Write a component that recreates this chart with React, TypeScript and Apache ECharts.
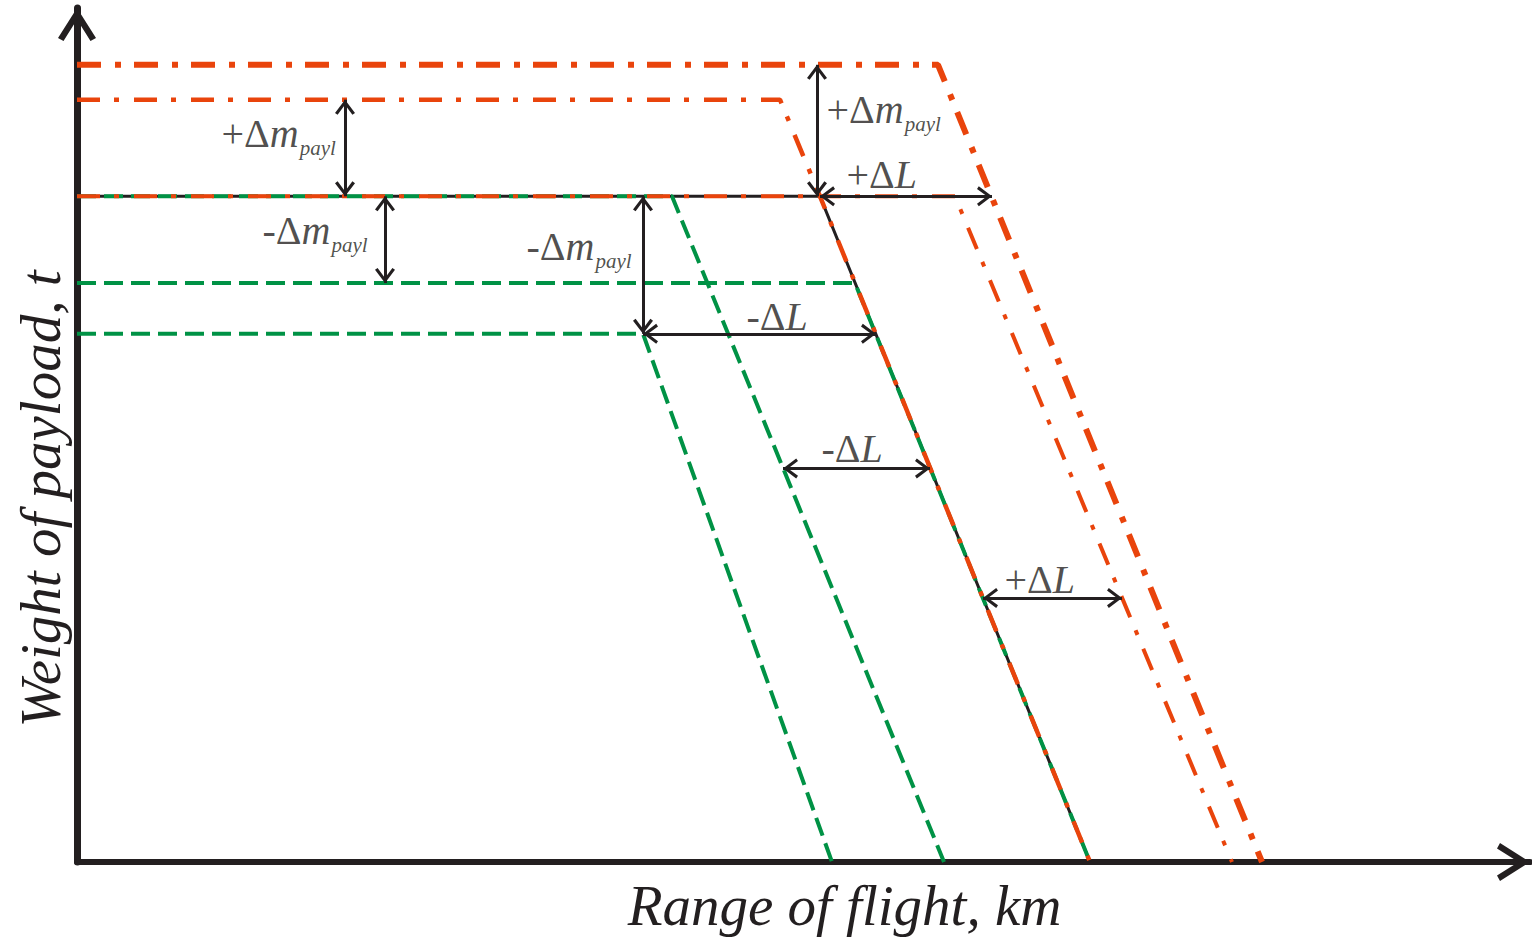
import React, { useEffect, useRef } from "react";
import * as echarts from "echarts";

// Schematic units: range of flight (x) and weight of payload (y)
const RANGE_MAX = 1453;
const PAYLOAD_MAX = 857;

// Payload–range diagrams [range, payload]
const baseCurve = [[0, 668], [743, 668], [1013, 0]];
const payloadPlusHigh = [[0, 800], [861, 800], [1185, 0]];
const payloadPlus = [[0, 765], [703, 765], [743, 668], [1013, 0]];
const rangePlus = [[0, 668], [878, 668], [1155, 0]];
const rangeMinus = [[0, 668], [595, 668], [867, 0]];
const payloadMinus = [[0, 581], [778, 581], [1013, 0]];
const payloadMinusLow = [[0, 530], [566, 530], [755, 0]];

// Double-headed dimension arrows
const arrowFrom = [[268, 765], [308, 668], [566, 668], [740, 800], [743, 668], [566, 530], [706, 395], [906, 265]];
const arrowTo = [[268, 668], [308, 581], [566, 530], [740, 668], [915, 668], [799, 530], [853, 395], [1045, 265]];

// Annotation texts and their anchors (top-left)
const labelText = ["+Δm_payl", "-Δm_payl", "-Δm_payl", "+Δm_payl", "+ΔL", "-ΔL", "-ΔL", "+ΔL"];
const labelPos = [[145, 751], [186, 653], [450, 637], [750, 775], [770, 709], [670, 567], [745, 435], [928, 303]];

const RED = "#E9440C";
const GREEN = "#009245";
const BLACK = "#231F20";
const SERIF = "'Liberation Serif', 'Times New Roman', serif";

const AXIS_HEAD = "path://M19,0 L38,30 L32.5,33 L19,11.5 L5.5,33 L0,30 Z";
const ARROW_HEAD = "path://M10,0 L20,13.2 L17.4,15 L10,5 L2.6,15 L0,13.2 Z";

function richLabel(t: string): string {
  const [main, sub] = t.split("_");
  const op = main.slice(0, 2);
  const v = main.slice(2);
  return `{op|${op}}{it|${v}}` + (sub ? `{sub|${sub}}` : "");
}

export default function App() {
  const ref = useRef<HTMLDivElement>(null);
  useEffect(() => {
    if (!ref.current) return;
    const chart = echarts.init(ref.current, undefined, { renderer: "svg" });
    const lineBase = { type: "line", symbol: "none", showSymbol: false, silent: true, clip: false };
    chart.setOption({
      animation: false,
      backgroundColor: "#ffffff",
      grid: { left: 77, right: 2, top: 8, bottom: 74, containLabel: false },
      xAxis: {
        type: "value",
        min: 0,
        max: RANGE_MAX,
        name: "Range of flight, km",
        nameLocation: "middle",
        nameGap: 15,
        nameTextStyle: { fontFamily: SERIF, fontStyle: "italic", fontSize: 57, color: BLACK, padding: [0, 0, 0, 82] },
        axisLine: {
          show: true,
          onZero: false,
          symbol: ["none", AXIS_HEAD],
          symbolSize: [38, 33],
          symbolOffset: [0, -16.5],
          lineStyle: { color: BLACK, width: 6 },
        },
        axisTick: { show: false },
        axisLabel: { show: false },
        splitLine: { show: false },
      },
      yAxis: {
        type: "value",
        min: 0,
        max: PAYLOAD_MAX,
        name: "Weight of payload, t",
        nameLocation: "middle",
        nameGap: 8,
        nameTextStyle: { fontFamily: SERIF, fontStyle: "italic", fontSize: 57, color: BLACK, padding: [0, 128, 0, 0] },
        axisLine: {
          show: true,
          onZero: false,
          symbol: ["none", AXIS_HEAD],
          symbolSize: [38, 33],
          symbolOffset: [0, -16.5],
          lineStyle: { color: BLACK, width: 7 },
        },
        axisTick: { show: false },
        axisLabel: { show: false },
        splitLine: { show: false },
      },
      series: [
        {
          ...lineBase,
          name: "Base",
          z: 2,
          data: baseCurve,
          lineStyle: { color: BLACK, width: 3, type: "solid" },
          markLine: {
            silent: true,
            z: 10,
            symbol: [ARROW_HEAD, ARROW_HEAD],
            symbolSize: [20, 15],
            symbolOffset: [[0, 7.5], [0, 7.5]],
            lineStyle: { color: BLACK, width: 3, type: "solid" },
            label: { show: false },
            emphasis: { disabled: true },
            data: arrowFrom.map((f, i) => [{ coord: f }, { coord: arrowTo[i] }]),
          },
        },
        { ...lineBase, name: "-ΔL", z: 3, data: rangeMinus, lineStyle: { color: GREEN, width: 4, type: [19, 8] } },
        { ...lineBase, name: "-Δm", z: 3, data: payloadMinus, lineStyle: { color: GREEN, width: 4, type: [19, 8] } },
        { ...lineBase, name: "-Δm low", z: 3, data: payloadMinusLow, lineStyle: { color: GREEN, width: 4, type: [19, 8] } },
        { ...lineBase, name: "+ΔL", z: 4, data: rangePlus, lineStyle: { color: RED, width: 4, type: [23, 14, 5, 15] } },
        { ...lineBase, name: "+Δm", z: 4, data: payloadPlus, lineStyle: { color: RED, width: 4.5, type: [23, 14, 5, 15] } },
        { ...lineBase, name: "+Δm high", z: 4, data: payloadPlusHigh, lineStyle: { color: RED, width: 6, type: [24, 14, 6, 13] } },
        {
          type: "scatter",
          name: "labels",
          z: 12,
          silent: true,
          symbolSize: 1,
          itemStyle: { color: "rgba(0,0,0,0)" },
          data: labelPos.map((p, i) => ({ value: p, name: labelText[i] })),
          label: {
            show: true,
            position: [0, 0],
            align: "left",
            verticalAlign: "top",
            formatter: (p: any) => richLabel(p.name),
            rich: {
              op: { fontFamily: SERIF, fontSize: 40, color: BLACK, verticalAlign: "top", lineHeight: 40 },
              it: { fontFamily: SERIF, fontSize: 40, fontStyle: "italic", color: BLACK, verticalAlign: "top", lineHeight: 40 },
              sub: { fontFamily: SERIF, fontSize: 21, fontStyle: "italic", color: BLACK, verticalAlign: "top", lineHeight: 21, padding: [24, 0, 0, 1] },
            },
          },
        },
      ],
    });
    return () => chart.dispose();
  }, []);
  return <div ref={ref} style={{ position: "absolute", left: 0, top: 0, width: 1532, height: 939 }} />;
}
